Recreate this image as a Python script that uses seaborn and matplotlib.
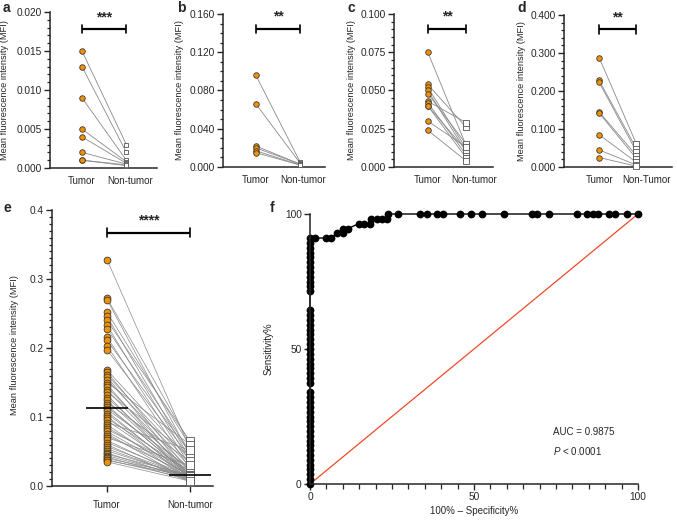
import numpy as np
import pandas as pd
import matplotlib
matplotlib.use("Agg")
import matplotlib.pyplot as plt
import seaborn as sns
from matplotlib.ticker import MultipleLocator, FormatStrFormatter

# ---------------- data ----------------
groups_abc = ["Tumor", "Non-tumor"]
groups_d = ["Tumor", "Non-Tumor"]

a_tumor = [0.015, 0.013, 0.009, 0.005, 0.004, 0.002, 0.001, 0.001]
a_normal = [0.003, 0.002, 0.001, 0.0008, 0.0006, 0.0005, 0.0003, 0.0004]

b_tumor = [0.096, 0.066, 0.022, 0.020, 0.017, 0.015]
b_normal = [0.005, 0.004, 0.003, 0.003, 0.002, 0.002]

c_tumor = [0.075, 0.054, 0.052, 0.050, 0.048, 0.043, 0.042, 0.040, 0.040, 0.030, 0.024]
c_normal = [0.014, 0.026, 0.012, 0.010, 0.015, 0.029, 0.008, 0.011, 0.006, 0.013, 0.004]

d_tumor = [0.288, 0.228, 0.223, 0.145, 0.142, 0.085, 0.045, 0.025]
d_normal = [0.060, 0.048, 0.040, 0.030, 0.022, 0.012, 0.005, 0.002]

e_tumor = [0.328, 0.272, 0.270, 0.252, 0.246, 0.240, 0.233, 0.228, 0.216, 0.211, 0.203, 0.197,
           0.168, 0.165, 0.161, 0.158, 0.154, 0.150, 0.147, 0.143, 0.139, 0.136, 0.132, 0.128,
           0.124, 0.121, 0.117, 0.115,
           0.111, 0.108, 0.105, 0.101, 0.098, 0.095, 0.092, 0.089, 0.085, 0.082, 0.079, 0.076,
           0.073, 0.070, 0.066, 0.063, 0.060, 0.057, 0.054, 0.051, 0.048, 0.046, 0.044, 0.042,
           0.040, 0.038, 0.037, 0.035]
e_normal = [0.054, 0.062, 0.045, 0.058, 0.040, 0.065, 0.035, 0.050, 0.030, 0.048, 0.025, 0.042,
            0.038, 0.020, 0.032, 0.015, 0.028, 0.060, 0.012, 0.024, 0.016, 0.044, 0.010, 0.022,
            0.016, 0.036, 0.014, 0.016,
            0.026, 0.011, 0.014, 0.009, 0.021, 0.013, 0.052, 0.008, 0.015, 0.023, 0.012, 0.007,
            0.016, 0.030, 0.010, 0.014, 0.006, 0.013, 0.011, 0.013, 0.009, 0.016, 0.012, 0.008,
            0.015, 0.010, 0.014, 0.007]

roc_fpr = [0] * 48 + [1.5, 5.0, 6.5, 8.3, 10.0, 10.2, 11.6, 14.8, 16.5, 18.2, 18.6, 20.3, 22.0,
                      23.5, 23.9, 26.8, 33.5, 35.6, 38.8, 40.5, 45.7, 49.0, 52.5, 59.2, 67.6,
                      69.3, 72.9, 81.3, 84.5, 86.4, 87.9, 91.3, 93.0, 96.6, 100.0]
roc_sens = [0.0, 1.8, 3.6, 5.4, 7.1, 8.9, 10.7, 12.5, 14.3, 16.1, 17.9, 19.6, 21.4, 23.2, 25.0,
            26.8, 28.6, 30.4, 32.1, 33.9, 37.5, 39.3, 41.1, 42.9, 44.6, 46.4, 48.2, 50.0, 51.8,
            53.6, 55.4, 57.1, 58.9, 60.7, 62.5, 64.3, 71.4, 73.2, 75.0, 76.8, 78.6, 80.4, 82.1,
            83.9, 85.7, 87.5, 89.3, 91.1,
            91.1, 91.1, 91.1, 92.9, 92.9, 94.6, 94.6, 96.4, 96.4, 96.4, 98.2, 98.2, 98.2,
            98.2, 100, 100, 100, 100, 100, 100, 100, 100, 100, 100, 100,
            100, 100, 100, 100, 100, 100, 100, 100, 100, 100]
diag_x = [0, 100]
diag_y = [0, 100]

# ---------------- style ----------------
sns.set_theme(style="ticks")
plt.rcParams['font.family'] = ['Liberation Sans', 'DejaVu Sans']
plt.rcParams['mathtext.fontset'] = 'custom'
plt.rcParams['mathtext.it'] = 'Liberation Sans:italic'
plt.rcParams['mathtext.rm'] = 'Liberation Sans'
plt.rcParams['axes.linewidth'] = 1.1
plt.rcParams['xtick.major.width'] = 1.0
plt.rcParams['ytick.major.width'] = 1.0
plt.rcParams['xtick.minor.width'] = 0.9
plt.rcParams['ytick.minor.width'] = 0.9

ORANGE = "#F39200"
EDGE = "#3a3a3a"
LINE = "#8a8a8a"

W, H = 677, 520
fig = plt.figure(figsize=(W / 100, H / 100), dpi=100)


def add_ax(l, t, r, b):
    return fig.add_axes([l / W, 1 - b / H, (r - l) / W, (b - t) / H])


def paired(ax, tumor, normal, labels, ymax, major, minor, fmt, stars, bar_y, xlim,
           circ_s, sq_s, ax_h_px, xticks=False, medians=False, lw=0.6, lab_shift=0.0):
    n = len(tumor)
    df = pd.DataFrame({
        "pair": list(range(n)) * 2,
        "pos": [labels.index(labels[0])] * n + [labels.index(labels[1])] * n,
        "value": list(tumor) + list(normal),
    })
    sns.lineplot(data=df, x="pos", y="value", units="pair", estimator=None,
                 color=LINE, lw=lw, ax=ax, zorder=1)
    sns.scatterplot(data=df[df.pos == 0], x="pos", y="value", color=ORANGE,
                    edgecolor=EDGE, linewidth=0.6, s=circ_s, marker="o", ax=ax, zorder=3)
    sns.scatterplot(data=df[df.pos == 1], x="pos", y="value", color="white",
                    edgecolor="#555555", linewidth=0.6, s=sq_s, marker="s", ax=ax, zorder=3)
    for c in ax.collections:
        c.set_clip_on(False)
    for l in ax.lines:
        l.set_clip_on(False)
    if medians:
        ax.hlines(np.median(tumor), -0.25, 0.25, color="black", lw=1.2, zorder=5, clip_on=False)
        ax.hlines(np.median(normal), 0.75, 1.25, color="black", lw=1.2, zorder=5, clip_on=False)
    # significance bar
    cap = 4.3 / ax_h_px * ymax
    ax.plot([0, 1], [bar_y, bar_y], color="black", lw=1.6, clip_on=False, solid_capstyle="butt")
    ax.plot([0, 0], [bar_y - cap, bar_y + cap], color="black", lw=1.2, clip_on=False)
    ax.plot([1, 1], [bar_y - cap, bar_y + cap], color="black", lw=1.2, clip_on=False)
    ax.text(0.5, bar_y + 1.2 * cap, stars, ha="center", va="bottom", fontsize=10,
            fontweight="bold")
    ax.set_xlim(*xlim)
    ax.set_ylim(0, ymax)
    ax.set_xticks([0, 1 + lab_shift])
    ax.set_xticklabels(labels, fontsize=7)
    ax.yaxis.set_major_locator(MultipleLocator(major))
    ax.yaxis.set_minor_locator(MultipleLocator(minor))
    ax.yaxis.set_major_formatter(FormatStrFormatter(fmt))
    ax.tick_params(axis="y", which="major", length=4, labelsize=7.3, pad=2)
    ax.tick_params(axis="y", which="minor", length=2)
    if xticks:
        ax.tick_params(axis="x", length=4, pad=6)
    else:
        ax.tick_params(axis="x", length=0, pad=6)
    ax.set_xlabel("")
    ax.set_ylabel("")
    sns.despine(ax=ax)


# panel a
ax_a = add_ax(50, 12, 157, 168)
paired(ax_a, a_tumor, a_normal, groups_abc, 0.020, 0.005, 0.001, "%.3f", "***", 0.0178,
       (-0.72, 1.69), 16, 10, 156, lab_shift=0.09)
# panel b
ax_b = add_ax(223, 14, 325, 167)
paired(ax_b, b_tumor, b_normal, groups_abc, 0.160, 0.040, 0.010, "%.3f", "**", 0.1443,
       (-0.74, 1.56), 16, 10, 153, lab_shift=0.06)
# panel c
ax_c = add_ax(394, 14, 493, 167)
paired(ax_c, c_tumor, c_normal, groups_abc, 0.100, 0.025, 0.005, "%.3f", "**", 0.0902,
       (-0.88, 1.70), 16, 14, 153, lab_shift=0.22)
# panel d
ax_d = add_ax(564, 15, 672, 167)
paired(ax_d, d_tumor, d_normal, groups_d, 0.400, 0.100, 0.020, "%.3f", "**", 0.362,
       (-0.94, 1.95), 16, 14, 152, lab_shift=0.27)
# panel e
ax_e = add_ax(52, 210, 213, 486)
paired(ax_e, e_tumor, e_normal, groups_abc, 0.4, 0.1, 0.01, "%.1f", "****", 0.367,
       (-0.663, 1.277), 24, 26, 276, xticks=True, medians=True, lw=0.5)

ylab = "Mean fluorescence intensity (MFI)"
for ax, x in [(ax_a, 5), (ax_b, 180), (ax_c, 351), (ax_d, 522)]:
    bb = ax.get_position()
    fig.text(x / W, (bb.y0 + bb.y1) / 2, ylab, rotation=90, ha="center", va="center",
             fontsize=6.7)
fig.text(15 / W, 1 - 345 / H, ylab, rotation=90, ha="center", va="center", fontsize=6.7)

# panel f
ax_f = add_ax(310, 214, 638, 484)
sns.lineplot(x=diag_x, y=diag_y, color="#ee4b2b", lw=0.9, ax=ax_f)
sns.lineplot(x=roc_fpr, y=roc_sens, sort=False, estimator=None, color="black", lw=1.0,
             marker="o", markersize=5.6, markeredgewidth=0, ax=ax_f)
for l in ax_f.lines:
    l.set_clip_on(False)
ax_f.set_xlim(0, 100)
ax_f.set_ylim(0, 100)
ax_f.xaxis.set_major_locator(MultipleLocator(50))
ax_f.xaxis.set_minor_locator(MultipleLocator(5))
ax_f.yaxis.set_major_locator(MultipleLocator(50))
ax_f.tick_params(axis="both", which="major", length=4, labelsize=7.3, pad=2)
ax_f.tick_params(axis="x", which="minor", length=3.5)
ax_f.set_xlabel("100% \u2013 Specificity%", fontsize=7, labelpad=3)
ax_f.set_ylabel("Sensitivity%", fontsize=7, labelpad=8)
sns.despine(ax=ax_f)
ax_f.text(74, 19.4, "AUC = 0.9875", fontsize=7, ha="left", va="center")
ax_f.text(74, 12.3, r"$\it{P}$ < 0.0001", fontsize=7, ha="left", va="center")

# panel letters
for lab, x, y in [("a", 3, 8), ("b", 177, 8), ("c", 347, 8), ("d", 517, 8),
                  ("e", 3, 208), ("f", 270, 208)]:
    fig.text(x / W, 1 - y / H, lab, fontsize=10, fontweight="bold", ha="left", va="center")

fig.savefig("out.png", dpi=100)
